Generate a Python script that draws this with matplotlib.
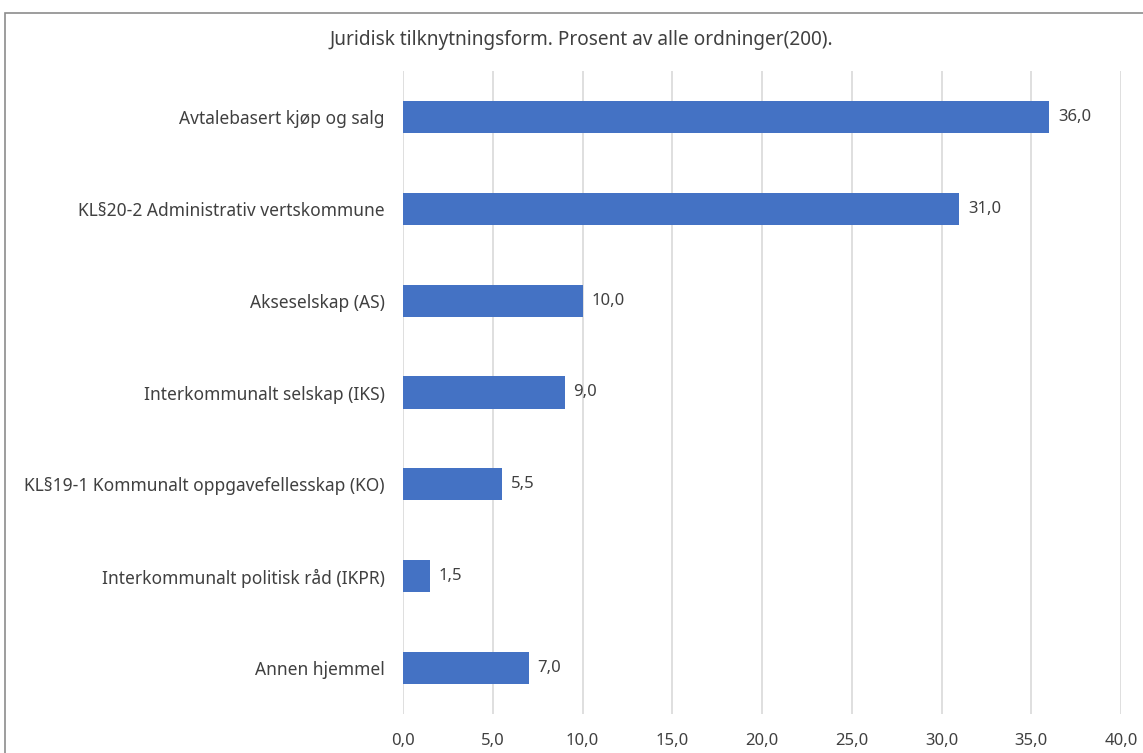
import matplotlib.pyplot as plt
from matplotlib.patches import Rectangle
from matplotlib.ticker import FuncFormatter

categories = [
    "Avtalebasert kjøp og salg",
    "KL§20-2 Administrativ vertskommune",
    "Akseselskap (AS)",
    "Interkommunalt selskap (IKS)",
    "KL§19-1 Kommunalt oppgavefellesskap (KO)",
    "Interkommunalt politisk råd (IKPR)",
    "Annen hjemmel",
]
values = [36.0, 31.0, 10.0, 9.0, 5.5, 1.5, 7.0]
title = "Juridisk tilknytningsform. Prosent av alle ordninger(200)."

plt.rcParams['font.family'] = ['Noto Sans', 'DejaVu Sans']
text_col = "#404040"

fig = plt.figure(figsize=(11.43, 7.53), dpi=100)
# thin frame around the chart, as in the source screenshot
fig.add_artist(Rectangle((5 / 1143, -0.1), 1.2, 1 - 13 / 753 + 0.1,
                         transform=fig.transFigure, fill=False,
                         edgecolor="#8c8c8c", linewidth=1.2))

ax = fig.add_axes([403 / 1143, 1 - 714 / 753, (1121 - 403) / 1143, (714 - 71) / 753])
ypos = list(range(len(categories)))
ax.barh(ypos, values, height=0.35, color="#4472C4", zorder=3)
ax.set_ylim(len(categories) - 0.5, -0.5)
ax.set_xlim(0, 40)
ax.set_xticks(range(0, 41, 5))
ax.xaxis.set_major_formatter(FuncFormatter(lambda v, p: f"{v:.1f}".replace(".", ",")))
ax.set_yticks(ypos)
ax.set_yticklabels(categories, fontsize=12.5, color=text_col)
ax.tick_params(axis="x", labelsize=12, labelcolor=text_col, length=0, pad=14)
ax.tick_params(axis="y", length=0, pad=13)
ax.grid(axis="x", color="#d9d9d9", linewidth=1.2, zorder=0)
for s in ax.spines.values():
    s.set_visible(False)

for y, v in zip(ypos, values):
    ax.text(v + 0.5, y, f"{v:.1f}".replace(".", ","), va="center", ha="left",
            fontsize=12, color=text_col)

fig.text(0.509, 1 - 40 / 753, title, ha="center", va="center",
         fontsize=13.7, color=text_col)

fig.savefig("out.png", dpi=100)
